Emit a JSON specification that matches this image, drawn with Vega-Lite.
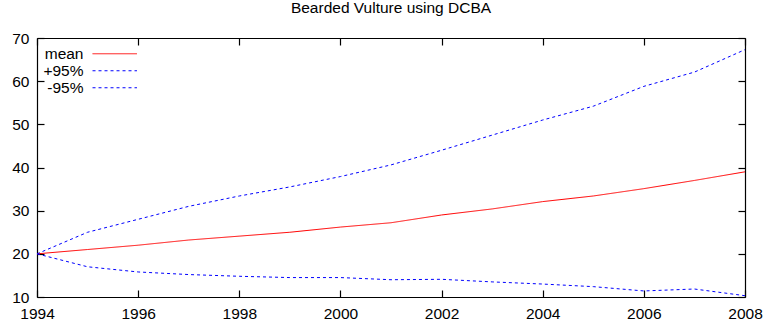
{
  "$schema": "https://vega.github.io/schema/vega-lite/v6.json",
  "width": 708,
  "height": 259,
  "autosize": {"type": "none"},
  "padding": {"left": 37, "top": 38, "right": 19, "bottom": 27},
  "background": "white",
  "title": {"text": "Bearded Vulture using DCBA", "font": "Liberation Sans", "fontSize": 15.5, "fontWeight": "normal", "color": "black", "anchor": "middle", "offset": 15},
  "config": {
    "view": {"stroke": null},
    "font": "Liberation Sans",
    "axis": {
      "grid": false, "title": null, "domainColor": "black", "domainWidth": 1.2,
      "tickColor": "black", "tickWidth": 1.2, "tickSize": -7,
      "labelFont": "Liberation Sans", "labelFontSize": 15.5, "labelColor": "black"
    }
  },
  "data": {"values": [
    {"year": 1994, "series": "mean", "value": 20},
    {"year": 1995, "series": "mean", "value": 21},
    {"year": 1996, "series": "mean", "value": 22},
    {"year": 1997, "series": "mean", "value": 23.2},
    {"year": 1998, "series": "mean", "value": 24.1},
    {"year": 1999, "series": "mean", "value": 25},
    {"year": 2000, "series": "mean", "value": 26.2},
    {"year": 2001, "series": "mean", "value": 27.2},
    {"year": 2002, "series": "mean", "value": 29},
    {"year": 2003, "series": "mean", "value": 30.4},
    {"year": 2004, "series": "mean", "value": 32.1},
    {"year": 2005, "series": "mean", "value": 33.4},
    {"year": 2006, "series": "mean", "value": 35.1},
    {"year": 2007, "series": "mean", "value": 37},
    {"year": 2008, "series": "mean", "value": 39},
    {"year": 1994, "series": "+95%", "value": 20},
    {"year": 1995, "series": "+95%", "value": 25},
    {"year": 1996, "series": "+95%", "value": 28},
    {"year": 1997, "series": "+95%", "value": 31},
    {"year": 1998, "series": "+95%", "value": 33.4},
    {"year": 1999, "series": "+95%", "value": 35.5},
    {"year": 2000, "series": "+95%", "value": 37.9},
    {"year": 2001, "series": "+95%", "value": 40.6},
    {"year": 2002, "series": "+95%", "value": 44},
    {"year": 2003, "series": "+95%", "value": 47.5},
    {"year": 2004, "series": "+95%", "value": 51},
    {"year": 2005, "series": "+95%", "value": 54.2},
    {"year": 2006, "series": "+95%", "value": 58.8},
    {"year": 2007, "series": "+95%", "value": 62.1},
    {"year": 2008, "series": "+95%", "value": 67.3},
    {"year": 1994, "series": "-95%", "value": 20},
    {"year": 1995, "series": "-95%", "value": 17},
    {"year": 1996, "series": "-95%", "value": 15.8},
    {"year": 1997, "series": "-95%", "value": 15.2},
    {"year": 1998, "series": "-95%", "value": 14.8},
    {"year": 1999, "series": "-95%", "value": 14.5},
    {"year": 2000, "series": "-95%", "value": 14.5},
    {"year": 2001, "series": "-95%", "value": 14},
    {"year": 2002, "series": "-95%", "value": 14.1},
    {"year": 2003, "series": "-95%", "value": 13.5},
    {"year": 2004, "series": "-95%", "value": 13},
    {"year": 2005, "series": "-95%", "value": 12.4},
    {"year": 2006, "series": "-95%", "value": 11.4},
    {"year": 2007, "series": "-95%", "value": 11.85},
    {"year": 2008, "series": "-95%", "value": 10.3}
  ]},
  "layer": [
    {
      "mark": {"type": "line", "strokeWidth": 1},
      "encoding": {
        "x": {"field": "year", "type": "quantitative", "scale": {"domain": [1994, 2008], "nice": false, "zero": false},
              "axis": {"orient": "bottom", "values": [1994, 1996, 1998, 2000, 2002, 2004, 2006, 2008], "format": "d", "labelFlush": false, "labelPadding": 16, "labelOverlap": false}},
        "y": {"field": "value", "type": "quantitative", "scale": {"domain": [10, 70], "nice": false, "zero": false},
              "axis": {"orient": "left", "values": [10, 20, 30, 40, 50, 60, 70], "labelPadding": 15, "labelFlush": false, "labelOverlap": false}},
        "color": {"field": "series", "type": "nominal",
                  "scale": {"domain": ["mean", "+95%", "-95%"], "range": ["#ff0000", "#0000ff", "#0000ff"]},
                  "legend": {"title": null, "orient": "none", "legendX": 70, "legendY": 8, "padding": 0,
                             "symbolType": "M-5,0L5,0", "symbolSize": 79, "symbolStrokeWidth": 1,
                             "labelAlign": "right", "labelOffset": -39, "labelFont": "Liberation Sans", "labelFontSize": 15.5, "labelColor": "black",
                             "rowPadding": -3, "labelLimit": 200}},
        "strokeDash": {"field": "series", "type": "nominal",
                       "scale": {"domain": ["mean", "+95%", "-95%"], "range": [[1, 0], [3, 3], [3, 3]]},
                       "legend": {"title": null, "orient": "none", "legendX": 70, "legendY": 8, "padding": 0,
                             "symbolType": "M-5,0L5,0", "symbolSize": 79, "symbolStrokeWidth": 1,
                             "labelAlign": "right", "labelOffset": -39, "labelFont": "Liberation Sans", "labelFontSize": 15.5, "labelColor": "black",
                             "rowPadding": -3, "labelLimit": 200}}
      }
    },
    {
      "mark": {"type": "line", "strokeOpacity": 0},
      "encoding": {
        "x": {"field": "year", "type": "quantitative", "axis": {"orient": "top", "values": [1994, 1996, 1998, 2000, 2002, 2004, 2006, 2008], "labels": false}},
        "y": {"field": "value", "type": "quantitative", "axis": {"orient": "right", "values": [10, 20, 30, 40, 50, 60, 70], "labels": false}},
        "detail": {"field": "series", "type": "nominal"}
      }
    }
  ],
  "resolve": {"axis": {"x": "independent", "y": "independent"}}
}
